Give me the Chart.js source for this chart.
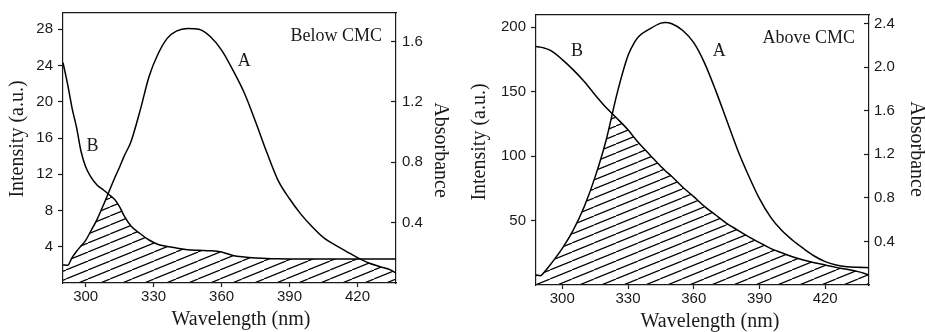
<!DOCTYPE html>
<html>
<head>
<meta charset="utf-8">
<script src="https://cdn.jsdelivr.net/npm/chart.js@4.4.1/dist/chart.umd.min.js"></script>
<style>
  body { margin: 0; background: #fff; }
  .panel { position: absolute; top: 0; }
</style>
</head>
<body>
<div class="panel" style="left:0"><canvas id="below" width="462" height="332"></canvas></div>
<div class="panel" style="left:462px"><canvas id="above" width="463" height="332"></canvas></div>
<script>
// Below CMC: emission (A) and absorption (B)
const belowWavelength = [290, 292, 294, 296, 298, 300, 302, 305, 308, 310, 313, 315, 317, 320, 324, 328, 332, 336, 340, 345,
    350, 355, 360, 365, 370, 375, 380, 385, 390, 395, 400, 405, 410, 415, 420, 425, 430, 435, 437];
const belowIntensity = [2.0, 1.95, 2.8, 3.5, 4.1, 4.7, 5.6, 7.0, 8.7, 9.9, 11.7, 12.8, 14.0, 15.6, 19.0, 22.8, 25.3, 27.0, 27.8, 28.1,
    28.0, 27.2, 25.7, 23.5, 21.0, 17.8, 14.4, 11.3, 9.3, 7.6, 6.2, 5.0, 4.2, 3.5, 2.8, 2.2, 1.8, 1.4, 1.1];
const belowAbsorbance = [1.46, 1.32, 1.16, 1.03, 0.87, 0.77, 0.71, 0.65, 0.615, 0.59, 0.55, 0.505, 0.445, 0.378, 0.328, 0.285, 0.255, 0.242, 0.232, 0.221,
    0.217, 0.214, 0.205, 0.182, 0.172, 0.166, 0.162, 0.16, 0.159, 0.159, 0.159, 0.159, 0.159, 0.159, 0.159, 0.159, 0.159, 0.159, 0.159];

// Above CMC
const aboveWavelength = [288, 290, 292, 295, 300, 305, 310, 315, 320, 325, 330, 333, 335, 340, 345, 347, 350, 355, 360, 365,
    370, 375, 380, 385, 390, 395, 400, 405, 410, 415, 420, 425, 430, 435, 440];
const aboveIntensity = [7.7, 7.2, 10.5, 16.8, 28.4, 42.6, 60.7, 83.9, 112.3, 148.5, 178, 188.5, 193, 198.8, 203.2, 203.7, 202.7, 197.5, 188, 172,
    151, 128, 105, 85, 67, 52.9, 42.6, 34.9, 28.4, 22.5, 18.1, 15.5, 14.2, 13.7, 13.4];
const aboveAbsorbance = [2.19, 2.185, 2.175, 2.15, 2.07, 1.976, 1.87, 1.746, 1.63, 1.53, 1.425, 1.35, 1.302, 1.195, 1.088, 1.05, 0.996, 0.898, 0.812, 0.72,
    0.643, 0.567, 0.505, 0.444, 0.389, 0.337, 0.297, 0.26, 0.23, 0.205, 0.184, 0.162, 0.144, 0.123, 0.092];

const INK = '#1a1a1a';
const SERIF = '"Liberation Serif", "Times New Roman", serif';

Chart.defaults.font.family = '"Liberation Sans", Arial, sans-serif';
Chart.defaults.font.size = 15;
Chart.defaults.color = INK;

function makeHatch(ctx) {
    const w = 22, h = 9;
    const c = document.createElement('canvas');
    c.width = w; c.height = h;
    const g = c.getContext('2d');
    g.strokeStyle = '#000';
    g.lineWidth = 1.2;
    [-w, 0, w].forEach(dx => {
        g.beginPath();
        g.moveTo(dx, h);
        g.lineTo(dx + w, 0);
        g.stroke();
    });
    return ctx.createPattern(c, 'repeat');
}

// axis titles, curve letters and panel caption
const textLabels = {
    id: 'textLabels',
    afterDraw(chart, args, opts) {
        const {ctx, chartArea, scales} = chart;
        ctx.save();
        ctx.fillStyle = INK;
        ctx.textBaseline = 'middle';
        ctx.textAlign = 'center';

        ctx.font = '20px ' + SERIF;
        opts.titles.forEach(t => {
            ctx.save();
            ctx.translate(t.x, t.y);
            ctx.rotate(t.rot * Math.PI / 180);
            ctx.fillText(t.text, 0, 0);
            ctx.restore();
        });

        ctx.font = '18px ' + SERIF;
        opts.curves.forEach(l => {
            ctx.fillText(l.text, scales.x.getPixelForValue(l.x), scales.y.getPixelForValue(l.y));
        });
        ctx.textAlign = 'right';
        ctx.fillText(opts.caption, chartArea.right - 14, chartArea.top + 23);
        ctx.restore();
    }
};

const hideZeroTick = c => (c.tick && c.tick.value === 0) ? 'rgba(0,0,0,0)' : INK;
const noPadding = s => { s.paddingTop = 0; s.paddingBottom = 0; s.paddingLeft = 0; s.paddingRight = 0; };

function makePanel(id, p) {
    const canvas = document.getElementById(id);
    const ctx = canvas.getContext('2d');
    const hatch = makeHatch(ctx);

    const emission = p.wavelength.map((x, i) => ({x: x, y: p.intensity[i]}));
    const absorption = p.wavelength.map((x, i) => ({x: x, y: p.absorbance[i]}));

    new Chart(ctx, {
        type: 'line',
        data: {
            datasets: [
                {
                    label: 'A',
                    data: emission,
                    yAxisID: 'y',
                    borderColor: '#000',
                    borderWidth: 1.5,
                    pointRadius: 0,
                    cubicInterpolationMode: 'monotone',
                    // blank out the part of B's hatch that lies above A
                    fill: {target: 1, above: 'rgba(0,0,0,0)', below: '#fff'}
                },
                {
                    label: 'B',
                    data: absorption,
                    yAxisID: 'y2',
                    borderColor: '#000',
                    borderWidth: 1.5,
                    pointRadius: 0,
                    cubicInterpolationMode: 'monotone',
                    backgroundColor: hatch,
                    fill: 'origin'
                }
            ]
        },
        options: {
            responsive: false,
            animation: false,
            events: [],
            layout: {padding: {top: p.top, left: 0, right: 0, bottom: 0}},
            plugins: {
                legend: {display: false},
                tooltip: {enabled: false},
                filler: {drawTime: 'beforeDraw'},
                textLabels: {curves: p.curves, caption: p.caption, titles: p.titles}
            },
            scales: {
                x: {
                    type: 'linear',
                    position: 'bottom',
                    min: p.xMin,
                    max: p.xMax,
                    border: {display: true, color: INK, width: 1.2},
                    grid: {drawOnChartArea: false, tickLength: 4, tickColor: INK, tickWidth: 1.2},
                    ticks: {stepSize: 30, includeBounds: false, padding: 1, maxRotation: 0},
                    afterFit: s => { noPadding(s); s.height = p.bottomHeight; }
                },
                xTop: {
                    type: 'linear',
                    position: 'top',
                    min: p.xMin,
                    max: p.xMax,
                    border: {display: true, color: INK, width: 1.2},
                    grid: {drawOnChartArea: false, drawTicks: false},
                    ticks: {display: false},
                    afterFit: s => { noPadding(s); s.height = 0; }
                },
                y: {
                    position: 'left',
                    min: 0,
                    max: p.yMax,
                    border: {display: true, color: INK, width: 1.2},
                    grid: {drawOnChartArea: false, tickLength: 5, tickColor: hideZeroTick, tickWidth: 1.2},
                    ticks: {stepSize: p.yStep, includeBounds: false, padding: 5,
                        callback: v => v === 0 ? '' : v},
                    afterFit: s => { noPadding(s); s.width = p.leftWidth; }
                },
                y2: {
                    position: 'right',
                    min: 0,
                    max: p.y2Max,
                    border: {display: true, color: INK, width: 1.2},
                    grid: {drawOnChartArea: false, tickLength: -5, tickColor: hideZeroTick, tickWidth: 1.2},
                    ticks: {stepSize: 0.4, includeBounds: false, padding: p.y2Pad,
                        callback: v => v === 0 ? '' : v.toFixed(1)},
                    afterFit: s => { noPadding(s); s.width = p.rightWidth; }
                }
            }
        },
        plugins: [textLabels]
    });
}

makePanel('below', {
    wavelength: belowWavelength,
    intensity: belowIntensity,
    absorbance: belowAbsorbance,
    xMin: 290, xMax: 437,
    yMax: 29.8, yStep: 4,
    y2Max: 1.79,
    top: 13, bottomHeight: 49, leftWidth: 63, rightWidth: 66,
    y2Pad: 11,
    caption: 'Below CMC',
    curves: [{text: 'A', x: 370, y: 24.5}, {text: 'B', x: 303, y: 15.1}],
    titles: [
        {text: 'Intensity (a.u.)', x: 18, y: 139, rot: -90},
        {text: 'Absorbance', x: 440, y: 150, rot: 90},
        {text: 'Wavelength (nm)', x: 241, y: 320, rot: 0}
    ]
});

makePanel('above', {
    wavelength: aboveWavelength,
    intensity: aboveIntensity,
    absorbance: aboveAbsorbance,
    xMin: 288, xMax: 440,
    yMax: 209.5, yStep: 50,
    y2Max: 2.48,
    top: 15, bottomHeight: 47, leftWidth: 74, rightWidth: 56,
    y2Pad: 10,
    caption: 'Above CMC',
    curves: [{text: 'A', x: 371.7, y: 181}, {text: 'B', x: 306.7, y: 181}],
    titles: [
        {text: 'Intensity (a.u.)', x: 18, y: 142, rot: -90},
        {text: 'Absorbance', x: 454, y: 149, rot: 90},
        {text: 'Wavelength (nm)', x: 248, y: 322, rot: 0}
    ]
});
</script>
</body>
</html>
